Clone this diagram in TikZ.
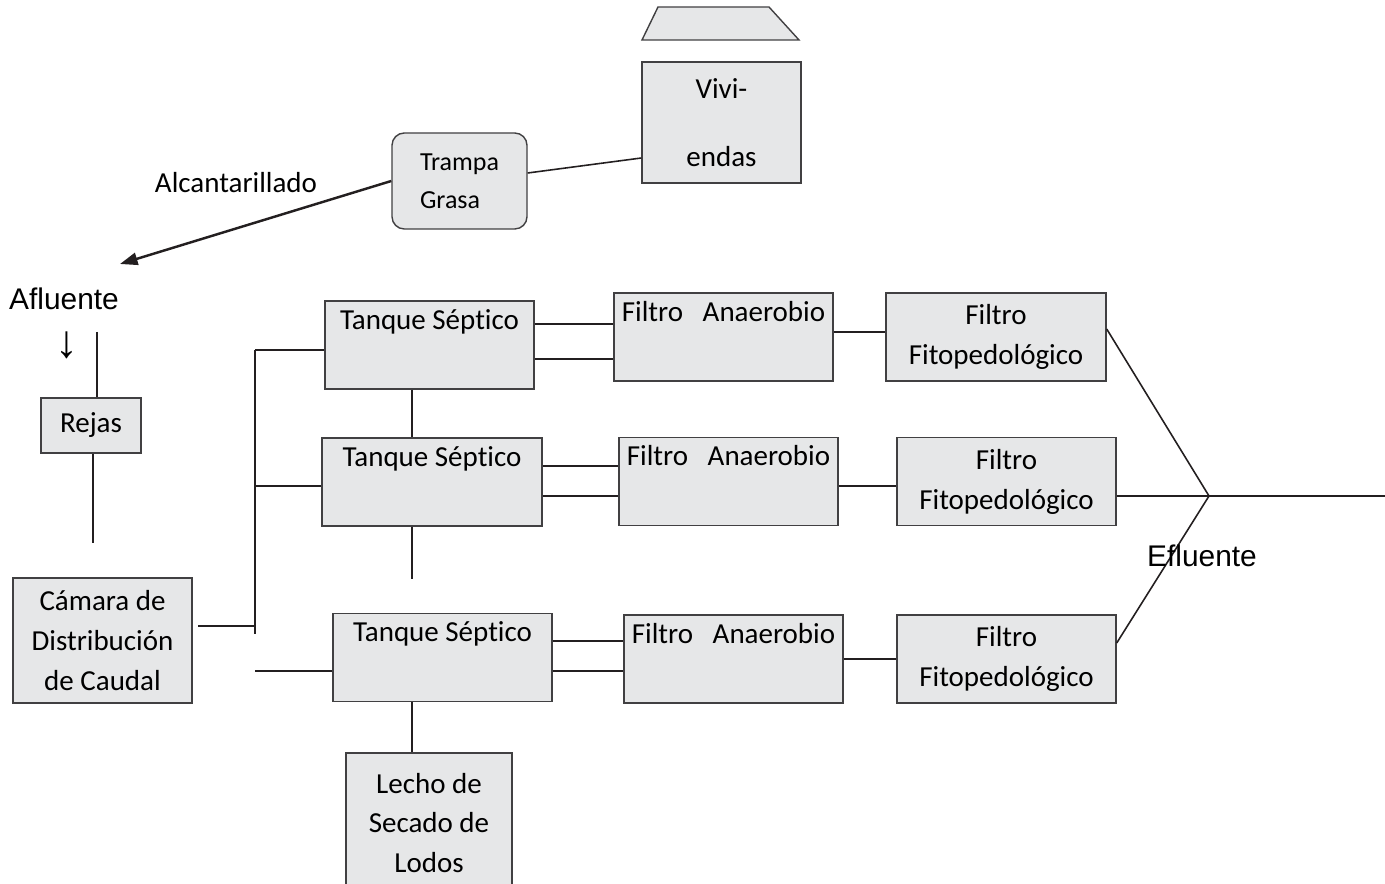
\documentclass[tikz,border=0pt]{standalone}
\usepackage{fontspec}
\setmainfont{Carlito}[Ligatures=NoCommon]
\newfontfamily\arialfont{Liberation Sans}
\usetikzlibrary{arrows.meta}
\newdimen\unitpx
\unitpx=0.02cm
\definecolor{boxfill}{HTML}{E6E7E8}
\definecolor{boxline}{HTML}{414042}
\definecolor{pipecolor}{HTML}{231F20}
\tikzset{
  unit/.style={draw=boxline, fill=boxfill, line width=0.8pt, inner sep=0pt, align=center,
    font=\fontsize{16.5}{22.7}\selectfont},
  tank/.style={unit, minimum width=219\unitpx, minimum height=88\unitpx},
  pipe/.style={draw=pipecolor, line width=0.9pt},
  caption/.style={inner sep=0pt, font=\arialfont\fontsize{17}{20}\selectfont},
}

\begin{document}
\begin{tikzpicture}[x=0.02cm, y=-0.02cm]
  \useasboundingbox (0,0) rectangle (1385,884);

  \draw[fill=boxfill, draw=boxline, line width=0.8pt] (642,40) -- (658,7) -- (769,7) -- (799,40) -- cycle;
  \node[unit, minimum width=159\unitpx, minimum height=121\unitpx] (Viviendas) at (721.5,122.5) {Vivi-\\[15.9pt]endas};
  \node[unit, rounded corners=7pt, minimum width=135\unitpx, minimum height=96\unitpx, align=left,
    font=\fontsize{14.8}{21.6}\selectfont] (Trampa) at (459.5,181) {Trampa\\Grasa};
  \node[inner sep=0pt, font=\fontsize{16.5}{20}\selectfont] (Alcantarillado) at (236,183) {Alcantarillado};
  \coordinate (Sewer) at (120,264);
  \draw[pipe] (Trampa.east |- 0,173) -- (Viviendas.west |- 0,158);
  \draw[pipe, line width=1.4pt, -{Triangle[length=10pt, width=7pt]}] (Trampa.west) -- (Sewer);

  \node[caption] (Afluente) at (64,299) {Afluente};
  \node[caption, font=\arialfont\fontsize{26}{28}\selectfont] (Down) at (67,345) {↓};
  \coordinate (Inlet) at (97,332);
  \node[unit, minimum width=100\unitpx, minimum height=55\unitpx] (Rejas) at (91,425.5) {Rejas};
  \coordinate (RejasOut) at (93,543);
  \node[unit, minimum width=179\unitpx, minimum height=125\unitpx] (Camara) at (102.5,640.5) {Cámara de\\Distribución\\de Caudal};
  \draw[pipe] (Inlet) -- (Inlet |- Rejas.north);
  \draw[pipe] (Rejas.south -| RejasOut) -- (RejasOut);

  \node[tank, minimum width=209\unitpx] (T1) at (429.5,345) {Tanque Séptico\\\strut};
  \node[tank, minimum width=220\unitpx] (T2) at (432,482) {Tanque Séptico\\\strut};
  \node[tank] (T3) at (442.5,657.5) {Tanque Séptico\\\strut};
  \node[tank] (FA1) at (723.5,337) {Filtro~~~Anaerobio\\\strut};
  \node[tank] (FA2) at (728.5,481.5) {Filtro~~~Anaerobio\\\strut};
  \node[tank] (FA3) at (733.5,659) {Filtro~~~Anaerobio\\\strut};
  \node[tank, minimum width=220\unitpx] (FF1) at (996,337) {Filtro\\Fitopedológico};
  \node[tank] (FF2) at (1006.5,481.5) {Filtro\\Fitopedológico};
  \node[tank] (FF3) at (1006.5,659) {Filtro\\Fitopedológico};
  \node[unit, minimum width=166\unitpx, minimum height=140\unitpx] (Lecho) at (429,823) {Lecho de\\Secado de\\Lodos};

  \coordinate (CamaraOut) at (198,626);
  \coordinate (BusTop) at (255,350);
  \coordinate (BusMid) at (255,486);
  \coordinate (BusBottom) at (255,634);
  \coordinate (Feed) at (255,671);
  \draw[pipe] (CamaraOut) -- (CamaraOut -| BusTop);
  \draw[pipe] (BusTop) -- (BusBottom);
  \draw[pipe] (BusTop) -- (BusTop -| T1.west);
  \draw[pipe] (BusMid) -- (BusMid -| T2.west);
  \draw[pipe] (Feed) -- (Feed -| T3.west);

  \coordinate (Sludge) at (412,579);
  \draw[pipe] (T1.south -| Sludge) -- (T2.north -| Sludge);
  \draw[pipe] (T2.south -| Sludge) -- (Sludge);
  \draw[pipe] (T3.south -| Sludge) -- (Lecho.north -| Sludge);

  \foreach \t/\f/\ya/\yb in {T1/FA1/324/359, T2/FA2/466/496, T3/FA3/641/671}{
    \draw[pipe] (\t.east |- 0,\ya) -- (\f.west |- 0,\ya);
    \draw[pipe] (\t.east |- 0,\yb) -- (\f.west |- 0,\yb);
  }
  \draw[pipe] (FA1.east |- 0,332) -- (FF1.west |- 0,332);
  \draw[pipe] (FA2.east |- 0,486) -- (FF2.west |- 0,486);
  \draw[pipe] (FA3.east) -- (FF3.west);

  \coordinate (Junction) at (1209,496);
  \coordinate (Outlet) at (1385,496);
  \draw[pipe] (FF1.east |- 0,329) -- (Junction);
  \draw[pipe] (FF2.east |- Junction) -- (Outlet);
  \draw[pipe] (FF3.east |- 0,643) -- (Junction);
  \node[caption] (Efluente) at (1202,556) {Efluente};
\end{tikzpicture}
\end{document}
